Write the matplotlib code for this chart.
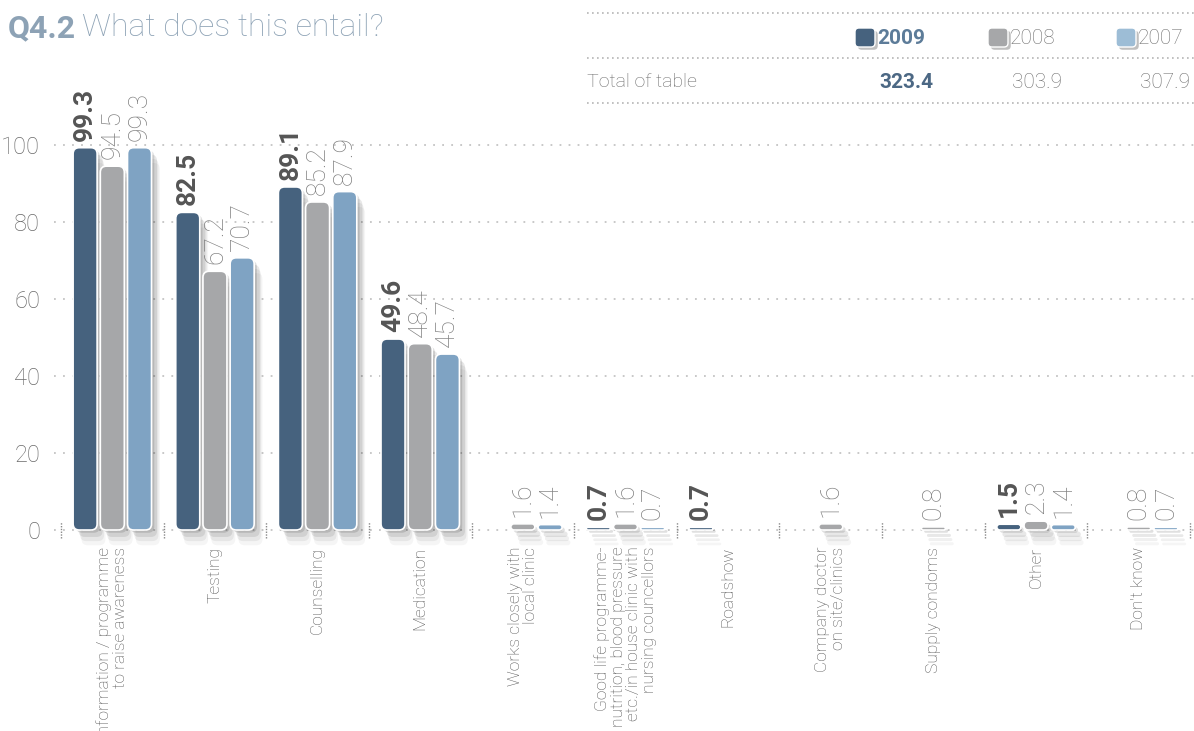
import numpy as np
import matplotlib
matplotlib.use("Agg")
import matplotlib.pyplot as plt
from matplotlib.patches import FancyBboxPatch
import matplotlib.patheffects as pe

# survey answers, one group per category
categories = [
    "Information / programme\nto raise awareness",
    "Testing",
    "Counselling",
    "Medication",
    "Works closely with\nlocal clinic",
    "Good life programme-\nnutrition, blood pressure\netc./in house clinic with\nnursing councellors",
    "Roadshow",
    "Company doctor\non site/clinics",
    "Supply condoms",
    "Other",
    "Don't know",
]
years = ["2009", "2008", "2007"]
vals_2009 = [99.3, 82.5, 89.1, 49.6, None, 0.7, 0.7, None, None, 1.5, None]
vals_2008 = [94.5, 67.2, 85.2, 48.4, 1.6, 1.6, None, 1.6, 0.8, 2.3, 0.8]
vals_2007 = [99.3, 70.7, 87.9, 45.7, 1.4, 0.7, None, None, None, 1.4, 0.7]
totals = [323.4, 303.9, 307.9]
yticks = [0, 20, 40, 60, 80, 100]

colors = ["#46627e", "#a6a7a9", "#7fa3c3"]
legend_colors = ["#46627e", "#a6a7a9", "#9dbdd6"]
title_col = "#8da2b5"
txt_dark = "#555555"
txt_light = "#808080"
LIGHT = "light"

plt.rcParams["font.family"] = ["Roboto", "DejaVu Sans"]

W, H = 1194, 731
fig = plt.figure(figsize=(W / 100, H / 100), dpi=100)
fig.patch.set_facecolor("white")

# main chart area
ax = fig.add_axes([61 / W, 1 - 530 / H, 1129 / W, 385 / H])
n = len(categories)
ax.set_xlim(-0.5, n - 0.5)
ax.set_ylim(0, 100)
for s in ax.spines.values():
    s.set_visible(False)
ax.set_xticks([])
ax.set_yticks(yticks)
ax.set_yticklabels([str(t) for t in yticks], fontsize=17, color="#6a6a6a",
                   fontweight=LIGHT)
ax.tick_params(axis="y", length=0, pad=15)

# dotted gridlines, carried out to the right edge
for t in yticks:
    ax.axhline(t, xmin=-0.006, xmax=1.01, color="#c4c4c4", lw=1.3,
               ls=(0, (1, 4)), clip_on=False, zorder=0)

# little separators between groups on the baseline
for b in np.arange(-0.5, n, 1.0):
    ax.plot([b, b], [-2, 2], color="#888888", lw=1.0, ls=(0, (1, 1)),
            clip_on=False, zorder=1)

px_x = 1129 / n          # pixels per x unit
px_y = 385 / 100         # pixels per y unit
aspect = px_x / px_y
bar_w = 0.234
offsets = [-0.265, 0.0, 0.265]
shadow = [
    pe.SimplePatchShadow(offset=(6, -11), shadow_rgbFace="k", alpha=0.04),
    pe.SimplePatchShadow(offset=(5, -8), shadow_rgbFace="k", alpha=0.06),
    pe.SimplePatchShadow(offset=(4, -5), shadow_rgbFace="k", alpha=0.09),
    pe.SimplePatchShadow(offset=(2, -2), shadow_rgbFace="k", alpha=0.12),
    pe.Normal(),
]

series = [vals_2009, vals_2008, vals_2007]
for k, vals in enumerate(series):
    for i, v in enumerate(vals):
        if v is None:
            continue
        x0 = i + offsets[k] - bar_w / 2
        r = min(0.06, v / 2 / aspect)
        box = FancyBboxPatch((x0, 0), bar_w, v,
                             boxstyle=f"round,pad=0,rounding_size={r}",
                             mutation_aspect=aspect, fc=colors[k],
                             ec="white", lw=1.2, zorder=3, clip_on=False)
        box.set_path_effects(shadow)
        ax.add_patch(box)
        ax.text(i + offsets[k], v + 1.8, f"{v:.1f}", rotation=90,
                ha="center", va="bottom", fontsize=19,
                color=txt_dark if k == 0 else txt_light,
                fontweight="bold" if k == 0 else LIGHT, zorder=4,
                clip_on=False)

# category labels under each group
for i, lab in enumerate(categories):
    ax.text(i, -4.3, lab, rotation=90, ha="center", va="top",
            multialignment="right", fontsize=12.5, color=txt_dark,
            fontweight=LIGHT, linespacing=1.05, clip_on=False)

# overlay in pixel units for title and the totals table
ov = fig.add_axes([0, 0, 1, 1], zorder=-1)
ov.set_xlim(0, W)
ov.set_ylim(H, 0)
ov.axis("off")
ov.patch.set_alpha(0)

ov.text(8, 28, "Q4.2", fontsize=23, fontweight="bold", color=title_col,
        va="center", ha="left")
ov.text(82, 28, "What does this entail?", fontsize=23, fontweight=LIGHT,
        color=title_col, va="center", ha="left")

for yy in [13, 58, 103]:
    ov.plot([587, 1194], [yy, yy], color="#b5b5b5", lw=1.2, ls=(0, (1, 2)))

leg_x = [855, 988, 1116]
for k, yr in enumerate(years):
    sq = FancyBboxPatch((leg_x[k], 28), 20, 19,
                        boxstyle="round,pad=0,rounding_size=4",
                        fc=legend_colors[k], ec="white", lw=1)
    sq.set_path_effects([
        pe.SimplePatchShadow(offset=(2, -2), shadow_rgbFace="k", alpha=0.25),
        pe.Normal()])
    ov.add_patch(sq)
    ov.text(leg_x[k] + 22, 38, yr, fontsize=15, va="center", ha="left",
            color="#5d7c99" if k == 0 else "#707070",
            fontweight="bold" if k == 0 else LIGHT)

ov.text(587, 82, "Total of table", fontsize=14, va="center", ha="left",
        color="#6a6a6a", fontweight=LIGHT)
tot_x = [933, 1062, 1190]
for k, t in enumerate(totals):
    ov.text(tot_x[k], 82, f"{t:.1f}", fontsize=15, va="center", ha="right",
            color="#4c6884" if k == 0 else "#707070",
            fontweight="bold" if k == 0 else LIGHT)

fig.savefig("out.png", dpi=100)
